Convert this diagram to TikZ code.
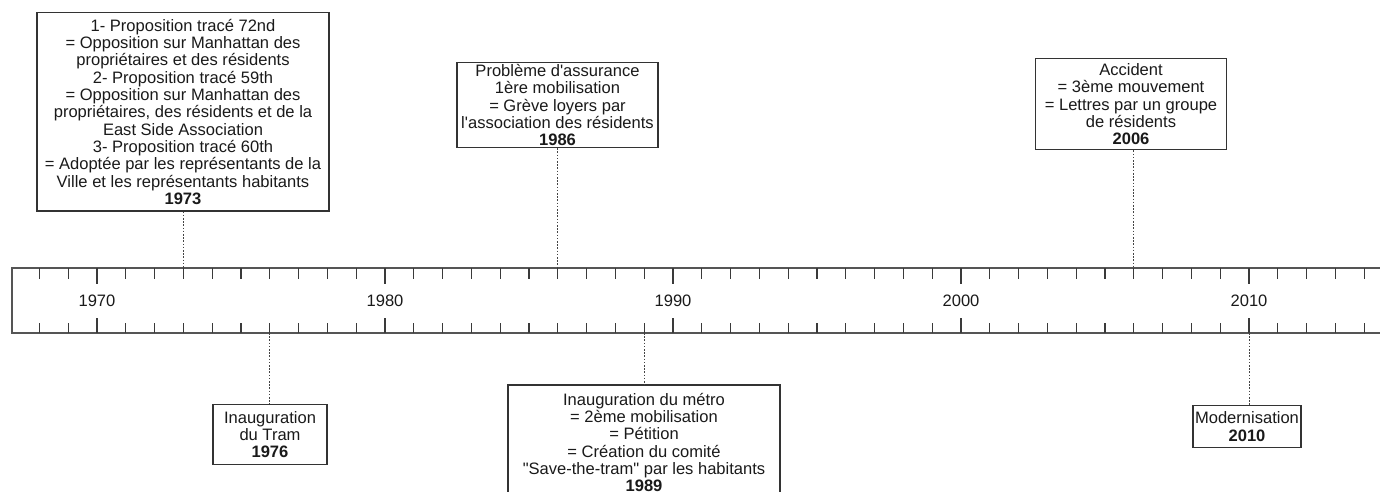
\documentclass[tikz,border=0pt]{standalone}
\usepackage{fontspec}
\setmainfont{Liberation Sans}
\definecolor{txt}{HTML}{1A1A1A}
\definecolor{boxc}{HTML}{333333}
\definecolor{barc}{HTML}{555555}
\definecolor{tickc}{HTML}{3A3A3A}
\definecolor{connc}{HTML}{444444}
\tikzset{
  box/.style={draw=boxc, line width=1.2bp, align=center, inner sep=0pt,
    font=\fontsize{16.6}{17.4}\selectfont, text=txt, fill=white},
  conn/.style={draw=connc, line width=1bp, dash pattern=on 1.6bp off 1.6bp},
  barline/.style={draw=barc, line width=1.4bp},
  tickmark/.style={draw=tickc, line width=1.1bp},
  yearlbl/.style={font=\fontsize{16.6}{17.4}\selectfont, text=txt, inner sep=0pt}
}
\begin{document}
\begin{tikzpicture}[x=1bp,y=-1bp]
\clip (0,0) rectangle (1380,492);
\fill[white] (0,0) rectangle (1380,492);
% timeline bar
\draw[barline] (1400,268) -- (12,268) -- (12,333) -- (1400,333);
\foreach \yr in {1968,...,2014}{
  \pgfmathsetmacro{\xx}{97+(\yr-1970)*28.8}
  \pgfmathtruncatemacro{\rr}{mod(\yr,10)}
  \coordinate (top\yr) at (\xx,268);
  \coordinate (bot\yr) at (\xx,333);
  \ifnum\rr=0
    \draw[tickmark] (top\yr) -- ++(0,16);
    \draw[tickmark] (bot\yr) -- ++(0,-15);
  \else
    \draw[tickmark] (top\yr) -- ++(0,11);
    \draw[tickmark] (bot\yr) -- ++(0,-10);
  \fi
}
\foreach \yr in {1970,1980,1990,2000,2010}{
  \path (top\yr) ++(0,33) node[yearlbl] (lbl\yr) {\yr};
}
% boxes above
\node[box, minimum width=292bp, minimum height=198bp, anchor=north] (b1973) at (183,12.3) {%
1- Proposition tracé 72nd\\
= Opposition sur Manhattan des\\
propriétaires et des résidents\\
2- Proposition tracé 59th\\
= Opposition sur Manhattan des\\
propriétaires, des résidents et de la\\
East Side Association\\
3- Proposition tracé 60th\\
= Adoptée par les représentants de la\\
Ville et les représentants habitants\\
\textbf{1973}};
\node[box, minimum width=201bp, minimum height=85bp, anchor=north] (b1986) at (557.5,62) {%
Problème d\textquotesingle assurance\\
1ère mobilisation\\
= Grève loyers par\\
l\textquotesingle association des résidents\\
\textbf{1986}};
\node[box, minimum width=191bp, minimum height=91bp, anchor=north] (b2006) at (1131,58.3) {%
Accident\\
= 3ème mouvement\\
= Lettres par un groupe\\
de résidents\\
\textbf{2006}};
% boxes below
\node[box, minimum width=114bp, minimum height=60bp, anchor=north] (b1976) at (270,404) {%
Inauguration\\
du Tram\\
\textbf{1976}};
\node[box, minimum width=272bp, minimum height=115bp, anchor=north] (b1989) at (644,384.3) {%
Inauguration du métro\\
= 2ème mobilisation\\
= Pétition\\
= Création du comité\\
\textquotedbl Save-the-tram\textquotedbl{} par les habitants\\
\textbf{1989}};
\node[box, minimum width=108bp, minimum height=42bp, anchor=north] (b2010) at (1247,405) {%
Modernisation\\
\textbf{2010}};
% connectors
\draw[conn] (b1973.south -| top1973) -- (top1973);
\draw[conn] (b1986.south -| top1986) -- (top1986);
\draw[conn] (b2006.south -| top2006) -- (top2006);
\draw[conn] (bot1976) -- (bot1976 |- b1976.north);
\draw[conn] (bot1989) -- (bot1989 |- b1989.north);
\draw[conn] (bot2010) -- (bot2010 |- b2010.north);
\end{tikzpicture}
\end{document}
